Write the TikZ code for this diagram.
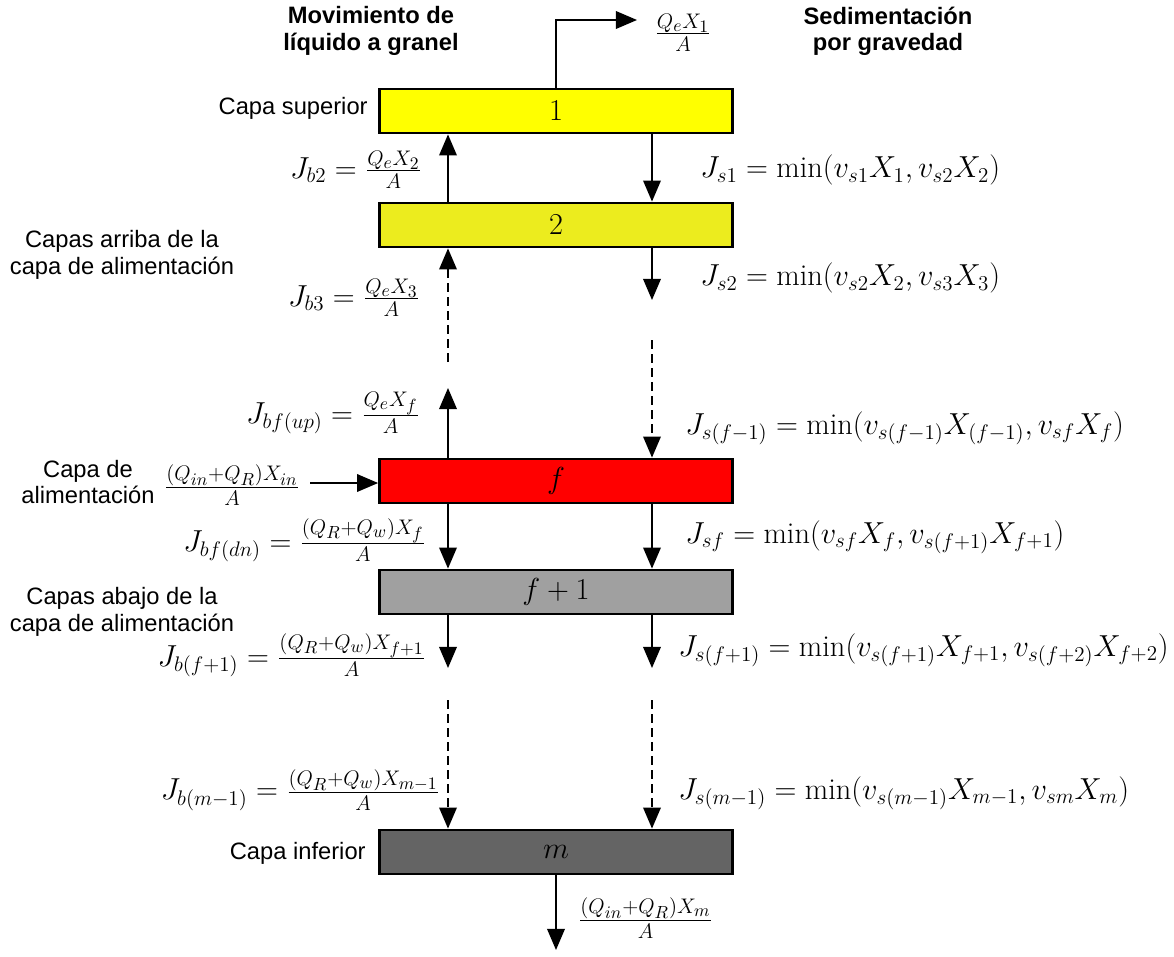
\documentclass[tikz,border=0pt]{standalone}
\usepackage{fontspec}
\setsansfont{Liberation Sans}
\usetikzlibrary{positioning, arrows.meta}
\definecolor{topyellow}{RGB}{255, 255, 0}
\definecolor{upperyellow}{RGB}{236, 236, 30}
\definecolor{feedred}{RGB}{255, 0, 0}
\definecolor{lowergray}{RGB}{160, 160, 160}
\definecolor{bottomgray}{RGB}{100, 100, 100}
\tikzset{
  layer/.style={
    draw, line width=1.6pt,
    minimum width=7.06cm,
    minimum height=0.88cm,
    font=\LARGE,
    inner sep=0pt
  },
  flow/.style={-{Triangle[length=12pt, width=10pt]}, line width=1pt, black},
  dflow/.style={flow, dash pattern=on 5pt off 3pt},
  lbl/.style={font=\fontsize{13.5}{15}\selectfont\sffamily, align=center, inner sep=0pt},
  head/.style={lbl, font=\fontsize{13.5}{15}\selectfont\sffamily\bfseries},
  eq/.style={font=\LARGE, inner sep=0pt}
}

\begin{document}
\begin{tikzpicture}[x=0.02cm, y=-0.02cm]
\useasboundingbox (0,0) rectangle (1174,957);

% Layers of the settler
\node[layer, fill=topyellow] (layer1) at (556,111) {$1$};
\node[layer, fill=upperyellow] (layer2) at (556,225) {$2$};
\node[layer, fill=feedred] (layerf) at (556,481) {$f$};
\node[layer, fill=lowergray] (layerf1) at (556,592) {$f+1$};
\node[layer, fill=bottomgray] (layerm) at (556,852) {$m$};

% Flux columns
\coordinate (bulk) at (448,0);
\coordinate (settle) at (652,0);

% Headings
\node[head] (bulkhead) at (371,31) {Movimiento de\\líquido a granel};
\node[head] (settlehead) at (888,31) {Sedimentación\\por gravedad};

% Side labels
\node[lbl, anchor=east] (toplbl) at (368,108) {Capa superior};
\node[lbl] (abovelbl) at (122,255) {Capas arriba de la\\capa de alimentación};
\node[lbl] (feedlbl) at (88,482) {Capa de\\alimentación};
\node[lbl] (belowlbl) at (122,612) {Capas abajo de la\\capa de alimentación};
\node[lbl, anchor=east] (botlbl) at (366,853) {Capa inferior};

% Effluent
\coordinate (effluent) at (637,20);
\draw[flow] (layer1.north) |- (effluent);
\node[eq] (qeff) at (683,33) {$\frac{Q_eX_1}{A}$};

% Bulk flow above the feed layer
\draw[flow] (layer2.north -| bulk) -- (layer1.south -| bulk);
\coordinate (bulkgap) at (448,362);
\draw[dflow] (bulkgap) -- (layer2.south -| bulk);
\coordinate (bulkfeed) at (448,388);
\draw[flow] (layerf.north -| bulk) -- (bulkfeed);

% Settling above the feed layer
\draw[flow] (layer1.south -| settle) -- (layer2.north -| settle);
\coordinate (settlestub) at (652,300);
\draw[flow] (layer2.south -| settle) -- (settlestub);
\coordinate (settlegap) at (652,340);
\draw[dflow] (settlegap) -- (layerf.north -| settle);

% Feed
\coordinate (feedin) at (310,483);
\draw[flow] (feedin) -- (layerf.west |- feedin);
\node[eq] (qfeed) at (232,485) {$\frac{(Q_{in}{+}Q_R)X_{in}}{A}$};

% Below the feed layer
\draw[flow] (layerf.south -| bulk) -- (layerf1.north -| bulk);
\draw[flow] (layerf.south -| settle) -- (layerf1.north -| settle);
\coordinate (bulkstub) at (448,668);
\draw[flow] (layerf1.south -| bulk) -- (bulkstub);
\coordinate (settlestub2) at (652,668);
\draw[flow] (layerf1.south -| settle) -- (settlestub2);
\coordinate (bulkgap2) at (448,700);
\draw[dflow] (bulkgap2) -- (layerm.north -| bulk);
\coordinate (settlegap2) at (652,700);
\draw[dflow] (settlegap2) -- (layerm.north -| settle);

% Underflow
\coordinate (underflow) at (553,950);
\draw[flow] (layerm.south) -- (layerm.south |- underflow);
\node[eq, anchor=west] (qunder) at (578,918) {$\frac{(Q_{in}{+}Q_R)X_m}{A}$};

% Bulk fluxes
\node[eq, anchor=east] (jb2) at (422,170) {$J_{b2}=\frac{Q_eX_2}{A}$};
\node[eq, anchor=east] (jb3) at (420,298) {$J_{b3}=\frac{Q_eX_3}{A}$};
\node[eq, anchor=east] (jbfup) at (420,413) {$J_{bf(up)}=\frac{Q_eX_f}{A}$};
\node[eq, anchor=east] (jbfdn) at (426,540) {$J_{bf(dn)}=\frac{(Q_R{+}Q_w)X_f}{A}$};
\node[eq, anchor=east] (jbf1) at (426,655) {$J_{b(f+1)}=\frac{(Q_R{+}Q_w)X_{f+1}}{A}$};
\node[eq, anchor=east] (jbm1) at (440,790) {$J_{b(m-1)}=\frac{(Q_R{+}Q_w)X_{m-1}}{A}$};

% Settling fluxes
\node[eq, anchor=west] (js1) at (700,170) {$J_{s1}=\min(v_{s1}X_1,v_{s2}X_2)$};
\node[eq, anchor=west] (js2) at (700,278) {$J_{s2}=\min(v_{s2}X_2,v_{s3}X_3)$};
\node[eq, anchor=west] (jsf0) at (685,428) {$J_{s(f-1)}=\min(v_{s(f-1)}X_{(f-1)},v_{sf}X_f)$};
\node[eq, anchor=west] (jsf) at (685,537) {$J_{sf}=\min(v_{sf}X_f,v_{s(f+1)}X_{f+1})$};
\node[eq, anchor=west] (jsf1) at (678,650) {$J_{s(f+1)}=\min(v_{s(f+1)}X_{f+1},v_{s(f+2)}X_{f+2})$};
\node[eq, anchor=west] (jsm1) at (678,793) {$J_{s(m-1)}=\min(v_{s(m-1)}X_{m-1},v_{sm}X_m)$};

\end{tikzpicture}
\end{document}
